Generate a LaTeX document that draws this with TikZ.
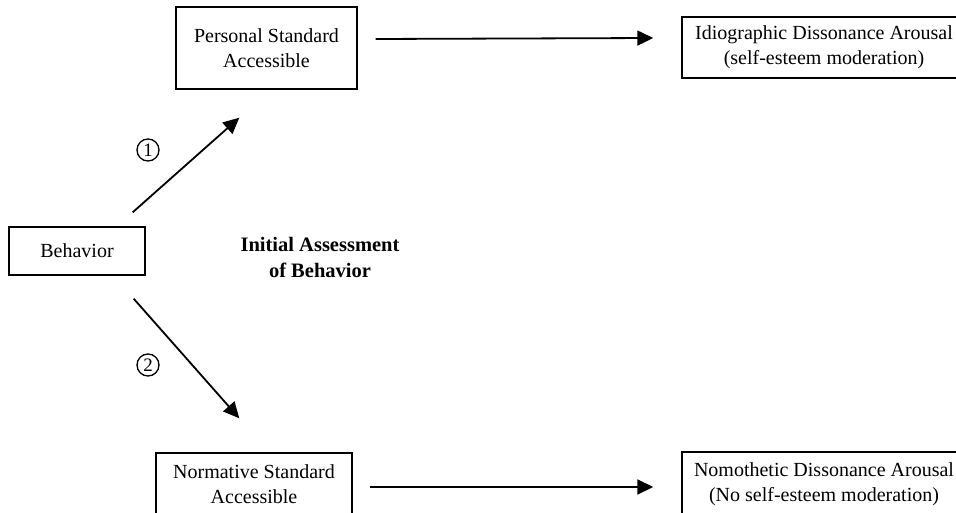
\documentclass[tikz,border=0pt]{standalone}
\usepackage{fontspec}
\setmainfont{Liberation Serif}
\usetikzlibrary{arrows.meta}
\tikzset{
  box/.style={draw, line width=1.4pt, align=center, inner sep=0pt,
    font=\fontsize{20}{25}\selectfont},
  arr/.style={line width=1.8pt, -{Triangle[length=16pt,width=15pt]}},
  num/.style={circle, draw, line width=1.3pt, minimum size=22pt, inner sep=0pt,
    font=\fontsize{19}{19}\selectfont},
  lbl/.style={align=center, inner sep=0pt, font=\fontsize{20.5}{26}\selectfont\bfseries}
}
\begin{document}
\begin{tikzpicture}[x=1pt,y=-1pt]
\useasboundingbox (0,0) rectangle (956,513);
\clip (0,0) rectangle (956,513);
\node[box, minimum width=181pt, minimum height=82pt] (pers) at (266.5,48) {Personal Standard\\Accessible};
\node[box, minimum width=284pt, minimum height=61pt] (idio) at (824,47.5) {Idiographic Dissonance Arousal\\(self-esteem moderation)};
\node[box, minimum width=136pt, minimum height=48pt] (beh) at (77,251) {Behavior};
\node[box, minimum width=196pt, minimum height=62pt] (norm) at (254,484) {Normative Standard\\Accessible};
\node[box, minimum width=284pt, minimum height=64pt] (nomo) at (824,484) {Nomothetic Dissonance Arousal\\(No self-esteem moderation)};
\node[lbl] (ia) at (320,257) {Initial Assessment\\of Behavior};
\node[num] (n1) at (148,150) {1};
\node[num] (n2) at (148,365) {2};
\draw[arr] ([shift={(18,-9)}]pers.east) -- ([shift={(-28,-9.5)}]idio.west);
\draw[arr] ([shift={(17,3)}]norm.east) -- ([shift={(-28,3)}]nomo.west);
\draw[arr] ([shift={(-13,-14)}]beh.north east) -- ([shift={(64,28)}]pers.south west);
\draw[arr] ([shift={(-12,23)}]beh.south east) -- ([shift={(84,-34)}]norm.north west);
\end{tikzpicture}
\end{document}
